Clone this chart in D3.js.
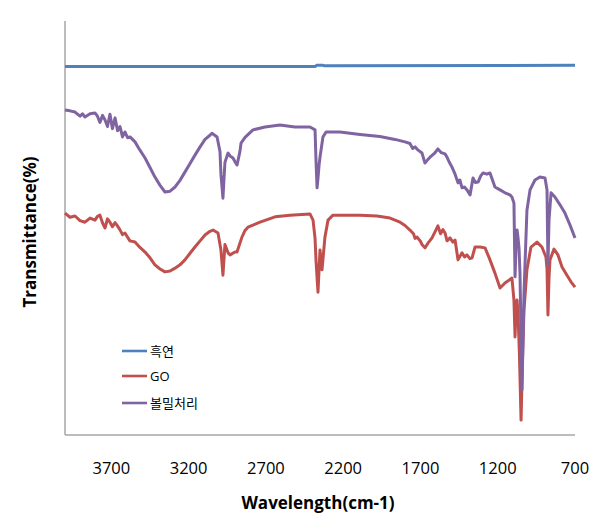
<!DOCTYPE html>
<html lang="ko">
<head>
  <meta charset="UTF-8">
  <title>FT-IR Transmittance</title>
  <script src="https://d3js.org/d3.v7.min.js"></script>
  <style>
    body { margin: 0; background: #fff; font-family: "Open Sans", "Noto Sans CJK KR", sans-serif; }
    .tick-label { font-size: 16.5px; fill: #000; }
    .axis-title { font-size: 17px; font-weight: bold; fill: #000; }
    .legend text { font-size: 13px; fill: #000; }
  </style>
</head>
<body>
  <div id="chart"></div>

  <script>
    // series names (legend order)
    const seriesNames = ["흑연", "GO", "볼밀처리"];
    const tickValues = [3700, 3200, 2700, 2200, 1700, 1200, 700];

    // 흑연 - flat
    const graphiteWn = [4000, 2380, 2372, 2330, 2322, 700];
    const graphiteT  = [89.0, 89.0, 89.3, 89.3, 89.2, 89.3];

    // GO
    const goWn = [4000, 3968, 3935, 3903, 3871, 3838, 3806, 3790, 3774, 3757, 3741, 3725, 3709, 3693, 3676, 3664, 3645, 3628,
                  3612, 3580, 3547, 3515, 3482, 3450, 3418, 3385, 3353, 3320, 3288, 3256, 3224, 3191, 3159, 3126, 3094,
                  3062, 3042, 3010, 2991, 2978, 2965, 2959, 2945, 2932, 2900, 2887, 2855, 2835, 2816, 2738, 2641, 2544,
                  2415, 2395, 2382, 2376, 2369, 2363, 2356, 2350, 2337, 2318, 2298, 2266, 2091, 1981, 1897, 1832, 1800,
                  1768, 1745, 1735, 1722, 1700, 1690, 1671, 1650, 1625, 1587, 1570, 1555, 1541, 1528, 1509, 1490, 1476,
                  1457, 1431, 1415, 1399, 1380, 1366, 1347, 1315, 1282, 1250, 1218, 1185, 1153, 1108, 1095, 1088, 1082,
                  1075, 1069, 1060, 1049, 1040, 1030, 1011, 985, 946, 914, 888, 881, 875, 868, 862, 836, 810, 784, 752,
                  726, 700];
    const goT  = [53.6, 52.6, 52.9, 51.8, 51.4, 52.4, 51.9, 52.8, 53.1, 51.2, 50.0, 52.2, 51.4, 50.3, 51.3, 50.7, 49.6, 48.4,
                  48.8, 46.9, 46.6, 45.3, 44.2, 42.8, 41.1, 40.1, 39.4, 39.6, 40.3, 41.1, 42.3, 43.9, 45.4, 46.9, 48.3,
                  49.2, 49.5, 48.8, 44.7, 38.6, 46.0, 45.4, 44.0, 43.5, 44.2, 44.2, 47.8, 49.4, 50.2, 51.4, 52.7, 53.1,
                  53.4, 51.9, 47.5, 42.3, 38.0, 34.5, 40.0, 44.7, 39.9, 47.8, 51.9, 53.1, 53.1, 52.9, 52.4, 51.4, 50.6,
                  49.5, 48.6, 47.5, 47.8, 46.8, 46.0, 45.2, 46.4, 47.6, 50.5, 48.6, 49.6, 48.8, 46.9, 47.6, 46.6, 47.1,
                  42.3, 44.0, 43.0, 43.5, 42.6, 42.8, 45.4, 45.4, 45.2, 42.3, 39.1, 35.5, 36.7, 37.9, 32.6, 23.7, 30.0,
                  32.6, 29.5, 20.0, 3.6, 18.0, 30.2, 39.9, 45.4, 46.6, 45.4, 43.0, 40.0, 29.0, 38.0, 42.3, 44.9, 43.5,
                  40.6, 38.6, 37.0, 35.7];

    // 볼밀처리
    const bmWn = [4000, 3968, 3935, 3903, 3887, 3871, 3838, 3806, 3790, 3774, 3757, 3741, 3725, 3709, 3693, 3676, 3660, 3644,
                  3628, 3612, 3595, 3579, 3547, 3515, 3482, 3450, 3418, 3385, 3353, 3320, 3288, 3256, 3224, 3191, 3159,
                  3126, 3094, 3062, 3049, 3016, 2997, 2991, 2978, 2971, 2965, 2945, 2932, 2913, 2900, 2887, 2868, 2861,
                  2835, 2784, 2706, 2609, 2512, 2415, 2382, 2376, 2369, 2363, 2356, 2350, 2331, 2311, 2285, 2221, 2091,
                  1962, 1865, 1800, 1768, 1750, 1735, 1715, 1690, 1671, 1655, 1638, 1610, 1587, 1565, 1541, 1528, 1515,
                  1496, 1476, 1457, 1445, 1431, 1415, 1399, 1379, 1360, 1345, 1327, 1310, 1295, 1270, 1250, 1218, 1185,
                  1153, 1121, 1108, 1095, 1088, 1082, 1075, 1069, 1062, 1056, 1043, 1030, 1011, 991, 959, 927, 894,
                  881, 875, 868, 855, 830, 797, 765, 732, 700];
    const bmT  = [78.5, 78.3, 78.0, 77.0, 77.6, 76.8, 77.6, 77.8, 77.0, 75.5, 77.2, 76.1, 74.5, 77.5, 74.0, 76.6, 73.5, 74.5,
                  72.0, 73.2, 71.8, 72.0, 70.8, 68.8, 66.9, 64.6, 62.3, 60.3, 58.7, 58.9, 59.9, 61.5, 63.5, 65.6, 67.6,
                  69.6, 71.4, 72.4, 72.9, 72.0, 68.4, 63.0, 57.2, 62.0, 65.9, 68.1, 67.4, 66.9, 66.0, 65.2, 68.5, 70.5,
                  71.9, 73.7, 74.4, 74.9, 74.4, 74.4, 73.7, 66.4, 59.7, 62.0, 65.2, 67.1, 72.0, 73.2, 73.2, 73.2, 72.6,
                  72.1, 71.4, 70.8, 70.4, 69.2, 69.6, 68.8, 68.1, 65.7, 66.4, 67.1, 68.0, 69.1, 68.2, 67.9, 67.1, 66.0,
                  64.7, 63.0, 60.9, 61.6, 59.7, 59.9, 59.2, 58.0, 62.1, 61.0, 61.1, 62.6, 63.3, 63.0, 63.3, 59.9, 59.2,
                  58.5, 58.0, 57.5, 56.0, 38.2, 45.0, 49.5, 47.8, 45.0, 39.1, 10.9, 34.3, 54.3, 59.2, 61.6, 62.3, 62.1,
                  59.2, 41.1, 52.0, 58.5, 57.5, 55.6, 53.6, 50.7, 47.6];

    const colors = ["#4F81BD", "#C0504D", "#8064A2"];
    const series = [
      {name: seriesNames[0], wn: graphiteWn, t: graphiteT},
      {name: seriesNames[1], wn: goWn, t: goT},
      {name: seriesNames[2], wn: bmWn, t: bmT}
    ];

    const W = 601, H = 520;
    const plot = {left: 65, right: 575, top: 21, bottom: 435};

    const svg = d3.select("#chart").append("svg")
                  .attr("width", W)
                  .attr("height", H);

    const x = d3.scaleLinear().domain([4000, 700]).range([plot.left, plot.right]);
    const y = d3.scaleLinear().domain([0, 100]).range([plot.bottom, plot.top]);

    // axis lines (no y ticks)
    svg.append("line")
       .attr("x1", plot.left).attr("x2", plot.left)
       .attr("y1", plot.top).attr("y2", plot.bottom)
       .attr("stroke", "#a6a6a6").attr("stroke-width", 1.5);
    svg.append("line")
       .attr("x1", plot.left).attr("x2", plot.right)
       .attr("y1", plot.bottom).attr("y2", plot.bottom)
       .attr("stroke", "#a6a6a6").attr("stroke-width", 1.5);

    // tick labels
    svg.selectAll(".tick-label")
       .data(tickValues)
       .enter()
       .append("text")
       .attr("class", "tick-label")
       .attr("x", d => x(d))
       .attr("y", 474)
       .attr("text-anchor", "middle")
       .text(d => d);

    svg.append("text")
       .attr("class", "axis-title")
       .attr("x", 318)
       .attr("y", 509)
       .attr("text-anchor", "middle")
       .text("Wavelength(cm-1)");

    svg.append("text")
       .attr("class", "axis-title")
       .attr("transform", "translate(36,232) rotate(-90)")
       .attr("text-anchor", "middle")
       .text("Transmittance(%)");

    const line = d3.line()
                   .x(d => x(d[0]))
                   .y(d => y(d[1]));

    svg.selectAll(".series")
       .data(series)
       .enter()
       .append("path")
       .attr("class", "series")
       .attr("fill", "none")
       .attr("stroke", (d, i) => colors[i])
       .attr("stroke-width", 3)
       .attr("stroke-linejoin", "round")
       .attr("d", d => line(d.wn.map((w, i) => [w, d.t[i]])));

    // legend
    const legendY = [351, 376, 403];
    const legend = svg.append("g").attr("class", "legend");
    series.forEach((s, i) => {
      legend.append("line")
            .attr("x1", 122).attr("x2", 147)
            .attr("y1", legendY[i]).attr("y2", legendY[i])
            .attr("stroke", colors[i]).attr("stroke-width", 2.6);
      legend.append("text")
            .attr("x", 150)
            .attr("y", legendY[i] + 5)
            .text(s.name);
    });
  </script>
</body>
</html>
